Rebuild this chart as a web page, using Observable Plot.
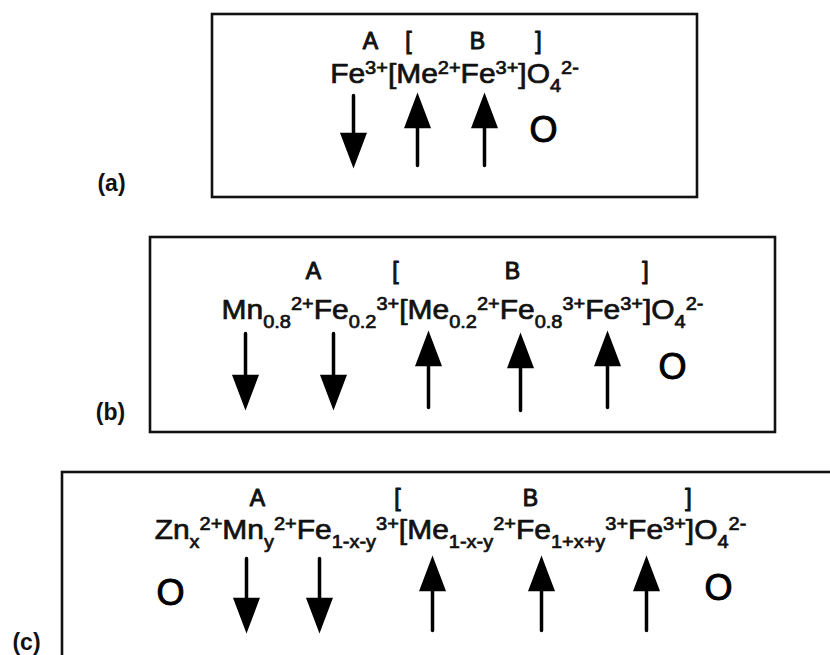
<!DOCTYPE html>
<html>
<head>
<meta charset="utf-8">
<script src="https://cdn.jsdelivr.net/npm/d3@7"></script>
<script src="https://cdn.jsdelivr.net/npm/@observablehq/plot@0.6"></script>
<style>
  html, body { margin: 0; padding: 0; background: #fff; overflow: hidden; }
  #chart svg { display: block; }
</style>
</head>
<body>
<div id="chart"></div>
<script>
// ---- Panels (boxes) ----
const panelNames = ["(a)", "(b)", "(c)"];
const boxLeft   = [212, 150, 62];
const boxRight  = [697, 775, 850];
const boxTop    = [14, 237, 472];
const boxBottom = [197, 432, 680];
const panelLabelX = [111, 110, 26];
const panelLabelY = [183, 412, 642];

// ---- Formulas (^{} superscript, _{} subscript) ----
const formulas = [
  "Fe^{3+}[Me^{2+}Fe^{3+}]O_{4}^{2-}",
  "Mn_{0.8}^{2+}Fe_{0.2}^{3+}[Me_{0.2}^{2+}Fe_{0.8}^{3+}Fe^{3+}]O_{4}^{2-}",
  "Zn_{x}^{2+}Mn_{y}^{2+}Fe_{1-x-y}^{3+}[Me_{1-x-y}^{2+}Fe_{1+x+y}^{3+}Fe^{3+}]O_{4}^{2-}"
];
const formulaX = [454, 462, 450];
const formulaY = [82, 318, 538];

// ---- Site labels A [ B ] ----
const siteText = ["A", "[", "B", "]"];
const siteX = [
  [370, 408, 477, 538],
  [313, 395, 512, 645],
  [257, 397, 530, 688]
];
const siteY = [48, 278, 505];

// ---- Spin arrows: x, tail y, tip y ----
const arrowX    = [353, 417, 484,   245, 333, 428, 520, 607,   246, 319, 432, 541, 646];
const arrowTail = [95, 165, 165,    333, 333, 407, 410, 407,   558, 558, 630, 630, 630];
const arrowTip  = [163, 97, 97,     405, 405, 335, 337, 335,   628, 628, 560, 560, 560];

// ---- Empty sites (O) ----
const emptyX = [543, 672, 170, 718];
const emptyY = [130, 367, 593, 588];

// ---- build tables ----
const boxes = panelNames.map((p, i) => ({p, x1: boxLeft[i], x2: boxRight[i], y1: boxTop[i], y2: boxBottom[i]}));
const labels = panelNames.map((p, i) => ({p, x: panelLabelX[i], y: panelLabelY[i]}));
const forms = formulas.map((f, i) => ({f, x: formulaX[i], y: formulaY[i]}));
const sites = siteX.flatMap((xs, i) => xs.map((x, j) => ({t: siteText[j], x, y: siteY[i]})));
const arrows = arrowX.map((x, i) => ({x, y: arrowTail[i], len: Math.abs(arrowTip[i] - arrowTail[i]), rot: arrowTip[i] > arrowTail[i] ? 180 : 0}));
const empties = emptyX.map((x, i) => ({x, y: emptyY[i]}));

const FONT = "'Liberation Sans', Arial, Helvetica, sans-serif";

const spinShape = {
  draw(context, l) {
    const hl = 29, hw = 11;
    context.moveTo(0, 0);
    context.lineTo(0, -l + hl);
    context.moveTo(-hw, -l + hl);
    context.lineTo(0, -l);
    context.lineTo(hw, -l + hl);
    context.closePath();
  }
};

const svg = Plot.plot({
  width: 830,
  height: 655,
  margin: 0,
  x: {domain: [0, 830], range: [0, 830], axis: null},
  y: {domain: [0, 655], range: [0, 655], axis: null},
  length: {type: "identity"},
  style: {fontFamily: FONT, background: "#fff"},
  marks: [
    Plot.rect(boxes, {x1: "x1", x2: "x2", y1: "y1", y2: "y2", fill: "none", stroke: "#111", strokeWidth: 2.6}),
    Plot.text(labels, {x: "x", y: "y", text: "p", fontSize: 23, fontWeight: "bold", fill: "#111", textAnchor: "middle", lineAnchor: "middle"}),
    Plot.text(sites, {x: "x", y: "y", text: "t", fontSize: 23, fill: "#111", stroke: "#111", strokeWidth: 1, textAnchor: "middle", lineAnchor: "bottom"}),
    Plot.text(forms, {x: "x", y: "y", text: "f", fontSize: 27, fill: "#111", stroke: "#111", strokeWidth: 0.7, textAnchor: "middle", lineAnchor: "bottom"}),
    Plot.vector(arrows, {x: "x", y: "y", length: "len", rotate: "rot", anchor: "start", shape: spinShape, stroke: "#000", fill: "#000", strokeWidth: 3.5, strokeLinejoin: "miter"}),
    Plot.text(empties, {x: "x", y: "y", text: () => "O", fontSize: 36, fill: "#000", stroke: "#000", strokeWidth: 1, textAnchor: "middle", lineAnchor: "middle"})
  ]
});

// turn ^{..} / _{..} markup into tspans, and widen formulas a little
const SCRIPT = 18, RAISE = 9, LOWER = 9, WIDEN = 1.11;
svg.querySelectorAll("text").forEach(el => {
  const s = el.textContent;
  if (!/[\^_]\{/.test(s)) return;
  el.textContent = "";
  const re = /([\^_])\{([^}]*)\}|([^\^_]+)/g;
  let m, off = 0;
  while ((m = re.exec(s))) {
    const t = document.createElementNS("http://www.w3.org/2000/svg", "tspan");
    let target = 0;
    if (m[3] !== undefined) { t.textContent = m[3]; }
    else {
      t.textContent = m[2];
      t.setAttribute("font-size", SCRIPT);
      target = m[1] === "^" ? -RAISE : LOWER;
    }
    t.setAttribute("dy", target - off);
    off = target;
    el.appendChild(t);
  }
  const tr = el.getAttribute("transform") || "";
  el.setAttribute("transform", tr + ` scale(${WIDEN},1)`);
});

document.getElementById("chart").appendChild(svg);
</script>
</body>
</html>
